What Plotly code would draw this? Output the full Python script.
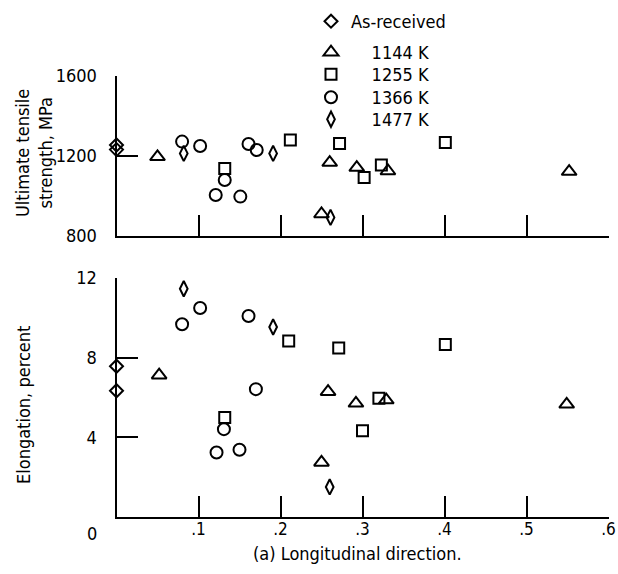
import plotly.graph_objects as go

# ---- data ----
asrec_x = [0.0, 0.0]
asrec_uts = [1255, 1232]
asrec_el = [7.57, 6.34]

k1144_x_uts = [0.050, 0.260, 0.250, 0.293, 0.331, 0.552]
k1144_uts = [1196, 1167, 910, 1142, 1125, 1122]
k1144_x_el = [0.052, 0.258, 0.250, 0.292, 0.329, 0.549]
k1144_el = [7.12, 6.29, 2.74, 5.71, 5.87, 5.66]

k1255_x_uts = [0.132, 0.212, 0.272, 0.302, 0.323, 0.401]
k1255_uts = [1138, 1280, 1263, 1093, 1155, 1267]
k1255_x_el = [0.132, 0.210, 0.271, 0.300, 0.320, 0.401]
k1255_el = [4.99, 8.84, 8.49, 4.33, 5.96, 8.66]

k1366_x_uts = [0.080, 0.102, 0.132, 0.121, 0.151, 0.161, 0.171]
k1366_uts = [1272, 1250, 1080, 1005, 997, 1260, 1230]
k1366_x_el = [0.080, 0.102, 0.131, 0.122, 0.150, 0.161, 0.170]
k1366_el = [9.68, 10.49, 4.41, 3.24, 3.38, 10.09, 6.42]

k1477_x_uts = [0.082, 0.191, 0.261]
k1477_uts = [1213, 1213, 893]
k1477_x_el = [0.082, 0.191, 0.260]
k1477_el = [11.46, 9.54, 1.51]

names = ["As-received", "1144 K", "1255 K", "1366 K", "1477 K"]
x_ticks = [0, 0.1, 0.2, 0.3, 0.4, 0.5, 0.6]
x_ticktext = ["", ".1", ".2", ".3", ".4", ".5", ".6"]
uts_ticks = [800, 1200, 1600]
el_ticks = [0, 4, 8, 12]
el_ticktext = ["", "4", "8", "12"]

FONT = "Liberation Sans Narrow, DejaVu Sans Condensed, Roboto Condensed, Liberation Sans, sans-serif"
GAP = "<span style='color:rgba(0,0,0,0)'>00</span>"   # invisible indent for the K entries
W, H = 618, 574

# legend slot centres (pixels from top) for each series
legend_rows = [21, 52, 74, 97, 119]
pads = ["", GAP, GAP, GAP, GAP]
symbols = ["diamond-open", "triangle-up-open", "square-open", "circle-open", "diamond-tall-open"]
sizes = [10, 13, 11, 12, 11]
uts_x = [asrec_x, k1144_x_uts, k1255_x_uts, k1366_x_uts, k1477_x_uts]
uts_y = [asrec_uts, k1144_uts, k1255_uts, k1366_uts, k1477_uts]
el_x = [asrec_x, k1144_x_el, k1255_x_el, k1366_x_el, k1477_x_el]
el_y = [asrec_el, k1144_el, k1255_el, k1366_el, k1477_el]

fig = go.Figure()
legends = {}
for i, name in enumerate(names):
    leg = "legend" if i == 0 else f"legend{i + 1}"
    mk = dict(symbol=symbols[i], size=sizes[i], color="black",
              line=dict(color="black", width=2))
    fig.add_trace(go.Scatter(x=uts_x[i], y=uts_y[i], mode="markers", marker=mk,
                             name=pads[i] + name, legendgroup=name, legend=leg,
                             xaxis="x", yaxis="y", cliponaxis=False))
    fig.add_trace(go.Scatter(x=el_x[i], y=el_y[i], mode="markers", marker=mk,
                             name=pads[i] + name, legendgroup=name, showlegend=False,
                             xaxis="x2", yaxis="y2", cliponaxis=False))
    legends[leg] = dict(x=311 / W, y=1 - (legend_rows[i] - 18) / H,
                        xanchor="left", yanchor="top",
                        font=dict(family=FONT, size=18, color="black"),
                        bgcolor="rgba(0,0,0,0)")

xdom = [116.5 / W, 608.5 / W]
ax_common = dict(showgrid=False, zeroline=False, showline=True, linecolor="black",
                 linewidth=2, ticks="inside", tickcolor="black", tickwidth=2,
                 ticklen=21, automargin=False)
tick_font = dict(family=FONT, size=18, color="black")

ann_font = dict(family=FONT, size=18, color="black")
fig.update_layout(
    width=W, height=H, autosize=False,
    margin=dict(l=0, r=0, t=0, b=0, pad=0, autoexpand=False),
    paper_bgcolor="white", plot_bgcolor="white",
    font=dict(family=FONT, color="black"),
    xaxis=dict(domain=xdom, range=[0, 0.6], anchor="y", tickvals=x_ticks,
               showticklabels=False, tickfont=tick_font, **ax_common),
    yaxis=dict(domain=[(H - 236) / H, (H - 76) / H], range=[800, 1600], anchor="x",
               tickvals=uts_ticks, ticklabelstandoff=14, tickfont=tick_font, **ax_common),
    xaxis2=dict(domain=xdom, range=[0, 0.6], anchor="y2", tickvals=x_ticks,
                ticktext=x_ticktext, ticklabelstandoff=-4,
                tickfont=dict(family=FONT, size=17, color="black"), **ax_common),
    yaxis2=dict(domain=[(H - 517) / H, (H - 278) / H], range=[0, 12], anchor="x2",
                tickvals=el_ticks, ticktext=el_ticktext, ticklabelstandoff=14,
                tickfont=tick_font, **ax_common),
    annotations=[
        dict(text="Ultimate tensile<br>strength, MPa", x=34 / W, y=(H - 153) / H,
             xref="paper", yref="paper", xanchor="center", yanchor="middle",
             textangle=-90, showarrow=False, font=ann_font),
        dict(text="Elongation, percent", x=23 / W, y=(H - 405) / H,
             xref="paper", yref="paper", xanchor="center", yanchor="middle",
             textangle=-90, showarrow=False, font=ann_font),
        dict(text="0", x=92 / W, y=(H - 533) / H, xref="paper", yref="paper",
             xanchor="center", yanchor="middle", showarrow=False, font=ann_font),
        dict(text="(a) Longitudinal direction.", x=357 / W, y=(H - 553) / H,
             xref="paper", yref="paper", xanchor="center", yanchor="middle",
             showarrow=False, font=ann_font),
    ],
)
fig.update_layout(**legends)

fig.write_html("out.html")
